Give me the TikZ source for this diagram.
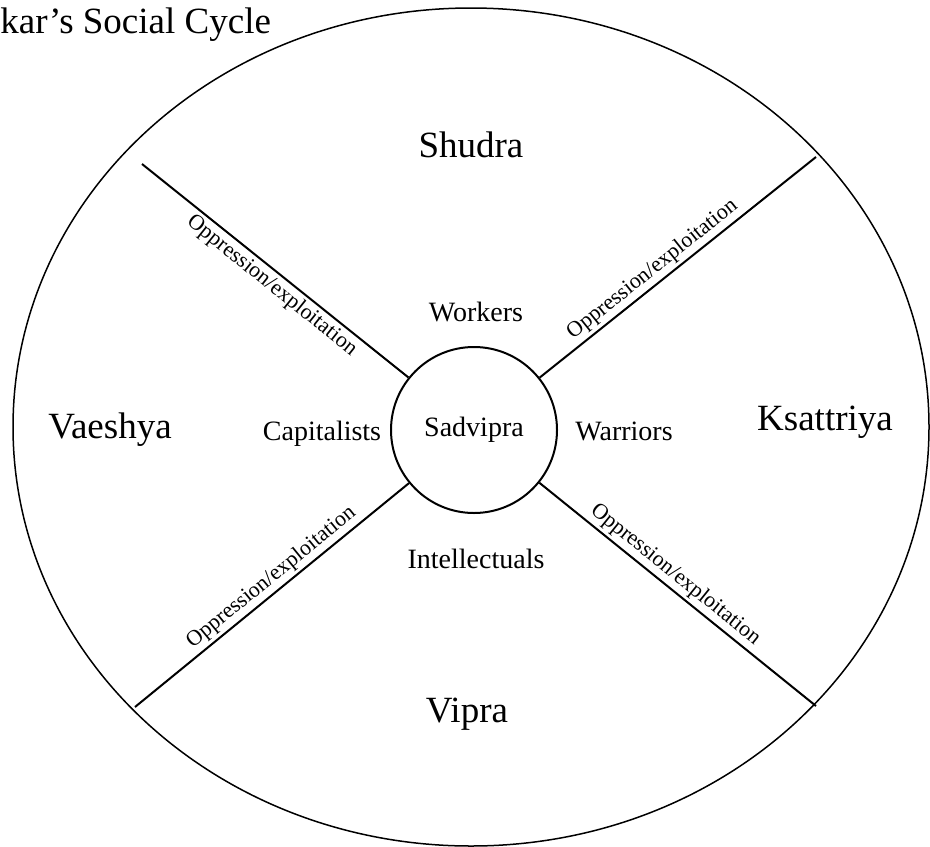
\documentclass[tikz,border=0pt]{standalone}
\usepackage{fontspec}
\setmainfont{Liberation Serif}
\usetikzlibrary{shapes}

\tikzset{
    varna/.style={font=\fontsize{18.5}{22}\selectfont, anchor=base, inner sep=0pt},
    role/.style={font=\fontsize{14}{17}\selectfont, anchor=base, inner sep=0pt},
    exploit/.style={font=\fontsize{11}{13}\selectfont, sloped, inner sep=1.5pt},
    spoke/.style={line width=1pt}
}

\begin{document}
\begin{tikzpicture}[x=0.5pt, y=-0.5pt]
    \useasboundingbox (0,0) rectangle (930,846);

    \node [ draw, ellipse,
            line width=0.75pt,
            minimum width=458pt, minimum height=419pt,
            inner sep=0pt] (cycle) at (471,427) {};
    \node [ draw, circle,
            line width=1pt,
            minimum size=83pt, inner sep=0pt,
            font=\fontsize{14}{17}\selectfont] (sadvipra) at (474,430) {\raisebox{-1.5pt}{Sadvipra}};

    \coordinate (shudraend) at (142,164);
    \coordinate (ksattriyaend) at (816,157);
    \coordinate (vaeshyaend) at (135,707);
    \coordinate (vipraend) at (816,706);

    \draw [spoke] (shudraend) -- node [exploit, below, pos=0.52] {Oppression/exploitation} (sadvipra);
    \draw [spoke] (sadvipra) -- node [exploit, above, pos=0.44] {Oppression/exploitation} (ksattriyaend);
    \draw [spoke] (vaeshyaend) -- node [exploit, above, pos=0.53] {Oppression/exploitation} (sadvipra);
    \draw [spoke] (sadvipra) -- node [exploit, above, pos=0.46] {Oppression/exploitation} (vipraend);

    \node [varna, anchor=base west] (title) at (0,33) {kar’s Social Cycle};
    \node [varna] (shudra) at (471,157) {Shudra};
    \node [varna] (vaeshya) at (110,438) {Vaeshya};
    \node [varna] (ksattriya) at (825,430) {Ksattriya};
    \node [varna] (vipra) at (467,722) {Vipra};

    \node [role] (workers) at (476,321) {Workers};
    \node [role] (capitalists) at (322,440) {Capitalists};
    \node [role] (warriors) at (624,440) {Warriors};
    \node [role] (intellectuals) at (476,568) {Intellectuals};
\end{tikzpicture}
\end{document}
